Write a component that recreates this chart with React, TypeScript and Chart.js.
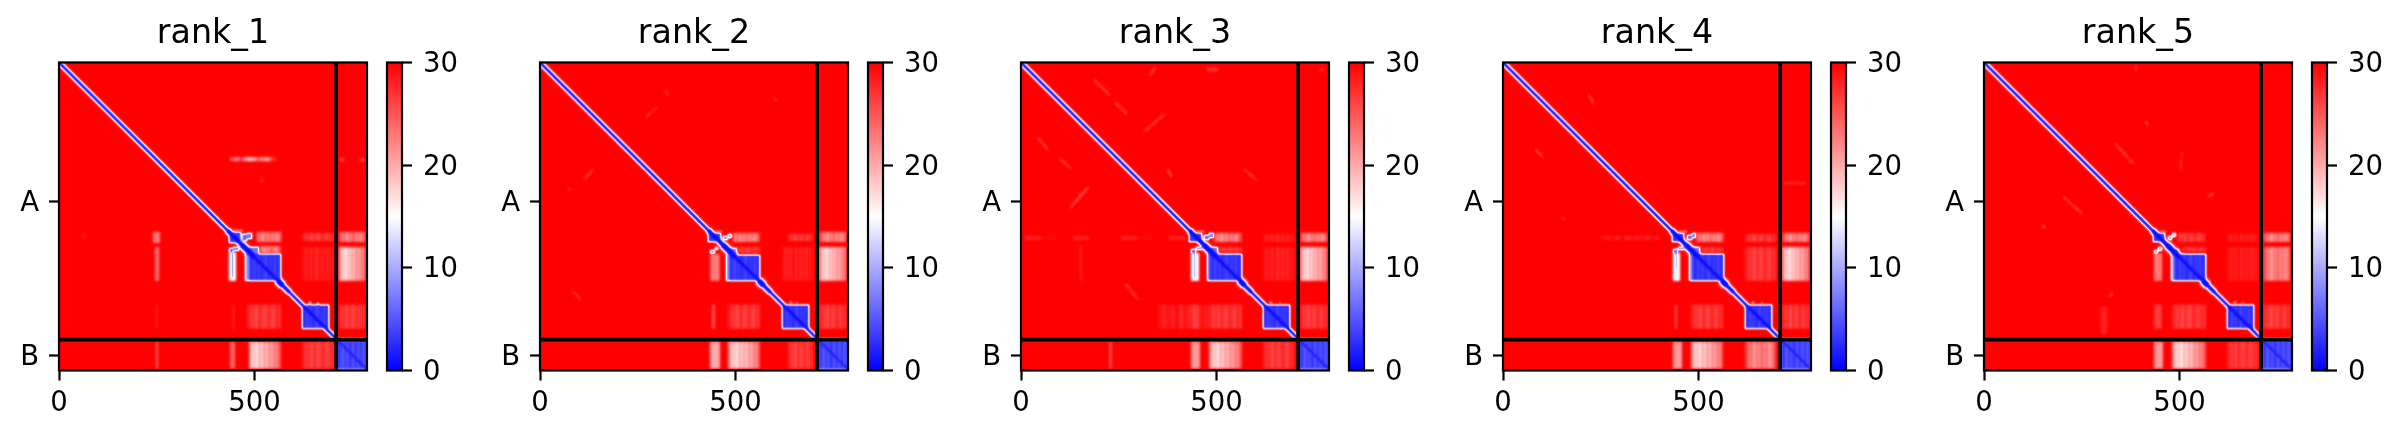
import React, { useEffect, useRef } from "react";
import { Chart, registerables } from "chart.js";

Chart.register(...registerables);

const FONT = "'DejaVu Sans'";
const rankNames = ["rank_1", "rank_2", "rank_3", "rank_4", "rank_5"];
const residueCount = 788;
const chainBoundary = 709;
const xTickValues = [0, 500];
const chainTickValues = [354.5, 748.5];
const chainTickLabels = ["A", "B"];
const colorbarTicks = [0, 10, 20, 30];

// Stripes of predicted aligned error.
const strong = [21, 17.5, 19, 16, 20, 17.5, 21, 18.5, 22, 20, 23, 22, 25];
const pale = [26, 22, 24, 20.5, 24, 22, 25, 22, 24, 21, 23, 26];
const medium = [28, 26.5, 27.5, 25.5, 28, 26.5, 26, 28, 27, 26, 28, 27];
const faint = [29, 28, 29, 28, 29.5, 27.5, 29, 28, 29, 28, 29, 28.5];
const blockMottle = [3.5, 2.5, 4, 2.8, 3.6, 2.4, 3.2, 4.2, 2.6, 3.4, 2.8, 3.8, 2.6, 3.4];
const chainBMottle = [4.5, 3.2, 5, 3.6, 4.4, 3, 5.2, 3.4, 4.6, 3.2, 4.8, 3.6];
const smudge = [25, 22, 26, 22, 18, 20, 24, 22, 19, 25, 28];

// Value by distance from the diagonal, in residues.
const diagonalDistances = [4, 5.5, 6.5, 8, 10, 13];
const diagonalValues = [0.5, 1.5, 8, 18, 25, 29];
// from, to, widening factor
const diagonalSpans = [
  [0, 430, 1],
  [430, 468, 1.5],
  [468, 500, 1.9],
  [500, 560, 1.2],
  [560, 572, 1.9],
  [572, 590, 1.3],
  [590, 704, 1],
];

// x0, x1, y0, y1, value(s) across x
const rank1Regions: any[][] = [
  [434, 466, 436, 462, 3.5],
  [440, 470, 430, 436, 20],
  [468, 480, 441, 458, 6],
  [480, 494, 438, 452, 7],
  [434, 446, 476, 488, 6],
  [446, 460, 472, 484, 7],
  [441, 449, 488, 552, 7],
  [436, 454, 486, 559, 14],
  [485, 567, 490, 559, blockMottle],
  [477, 485, 490, 559, 9],
  [485, 512, 474, 490, 7],
  [512, 567, 470, 490, pale],
  [622, 691, 622, 682, blockMottle],
  [640, 644, 615, 622, 12],
  [660, 664, 617, 622, 12],
  [708, 790, 708, 785, chainBMottle],
  [708, 790, 785, 790, 9],
  [503, 571, 436, 460, pale],
  [622, 703, 438, 458, medium],
  [716, 785, 436, 460, pale],
  [622, 703, 472, 559, faint],
  [716, 785, 472, 559, strong],
  [444, 449, 622, 682, 26],
  [481, 567, 622, 682, medium],
  [716, 785, 622, 682, medium],
  [438, 451, 715, 786, 24],
  [485, 567, 715, 786, strong],
  [622, 703, 715, 786, medium],
  [241, 259, 436, 462, 23],
  [246, 256, 472, 560, 23],
  [247, 252, 622, 682, 27],
  [247, 254, 715, 786, 24],
  [438, 559, 244, 254, smudge],
  [718, 730, 246, 252, 25],
  [770, 782, 246, 252, 25],
  [515, 525, 300, 306, 27],
  [60, 70, 440, 450, 28.5],
];

const rank2Regions: any[][] = [
  [431, 462, 438, 461, 3.5],
  [438, 466, 432, 438, 20],
  [469, 480, 444, 456, 8],
  [480, 490, 440, 450, 9],
  [435, 447, 480, 491, 9],
  [447, 456, 472, 482, 9],
  [435, 460, 492, 560, pale],
  [483, 564, 493, 560, blockMottle],
  [477, 483, 493, 560, 9],
  [483, 503, 476, 493, 8],
  [503, 562, 474, 492, medium],
  [620, 689, 621, 683, blockMottle],
  [640, 644, 615, 621, 14],
  [655, 660, 617, 621, 14],
  [708, 790, 708, 785, chainBMottle],
  [708, 790, 785, 790, 9],
  [490, 563, 438, 461, pale],
  [635, 699, 440, 458, medium],
  [715, 785, 436, 460, pale],
  [618, 699, 472, 560, faint],
  [715, 785, 472, 560, strong],
  [439, 448, 621, 683, 25],
  [482, 563, 621, 683, medium],
  [715, 785, 621, 683, medium],
  [435, 460, 715, 786, 20],
  [482, 563, 715, 786, strong],
  [635, 699, 715, 786, medium],
];

const rank3Regions: any[][] = [
  [431, 463, 438, 461, 3.5],
  [438, 468, 432, 438, 20],
  [469, 482, 442, 456, 6],
  [482, 494, 438, 450, 7],
  [434, 448, 478, 490, 6],
  [448, 462, 472, 482, 7],
  [440, 449, 490, 552, 9],
  [435, 456, 488, 560, 14],
  [482, 565, 490, 560, blockMottle],
  [477, 482, 490, 560, 9],
  [482, 505, 474, 490, 7],
  [505, 565, 472, 488, medium],
  [620, 689, 621, 683, blockMottle],
  [638, 642, 615, 621, 14],
  [660, 664, 617, 621, 14],
  [708, 790, 708, 785, chainBMottle],
  [708, 790, 785, 790, 9],
  [492, 565, 438, 461, pale],
  [620, 699, 440, 460, faint],
  [715, 785, 438, 460, pale],
  [620, 699, 472, 560, faint],
  [715, 785, 472, 560, strong],
  [435, 455, 621, 683, medium],
  [482, 565, 621, 683, medium],
  [715, 785, 621, 683, medium],
  [435, 458, 715, 786, 21],
  [482, 565, 715, 786, strong],
  [620, 699, 715, 786, medium],
  [10, 420, 444, 456, [28, 29.5, 30, 28, 30, 30, 28, 29.5, 30, 28]],
  [150, 156, 470, 560, 28],
  [350, 480, 622, 683, faint],
  [225, 232, 715, 786, 26],
  [475, 505, 12, 24, 27],
  [765, 775, 12, 24, 27],
];

const rank4Regions: any[][] = [
  [432, 464, 438, 461, 3.5],
  [440, 470, 432, 438, 20],
  [470, 484, 442, 456, 6],
  [484, 494, 438, 450, 7],
  [434, 448, 478, 490, 6],
  [448, 464, 472, 482, 7],
  [441, 448, 490, 530, 9],
  [436, 454, 488, 560, 14],
  [484, 566, 490, 560, blockMottle],
  [477, 484, 490, 560, 9],
  [484, 505, 474, 490, 7],
  [505, 564, 472, 488, medium],
  [620, 689, 621, 683, blockMottle],
  [638, 642, 615, 621, 14],
  [660, 664, 617, 621, 14],
  [708, 790, 708, 785, chainBMottle],
  [708, 790, 785, 790, 9],
  [492, 566, 438, 461, pale],
  [620, 699, 440, 460, medium],
  [715, 785, 438, 460, pale],
  [620, 699, 472, 560, medium],
  [715, 785, 472, 560, strong],
  [440, 446, 621, 683, 25],
  [482, 564, 621, 683, medium],
  [715, 785, 621, 683, medium],
  [436, 458, 715, 786, 21],
  [482, 564, 715, 786, strong],
  [620, 699, 715, 786, pale],
  [250, 400, 444, 456, faint],
  [718, 774, 307, 312, 27],
];

const rank5Regions: any[][] = [
  [432, 463, 438, 461, 3.5],
  [440, 466, 432, 438, 20],
  [470, 480, 446, 456, 9],
  [480, 492, 438, 448, 10],
  [436, 446, 482, 490, 9],
  [446, 456, 474, 484, 9],
  [434, 456, 488, 560, pale],
  [486, 568, 490, 560, blockMottle],
  [478, 486, 492, 560, 10],
  [486, 500, 478, 490, 8],
  [505, 568, 472, 486, medium],
  [622, 690, 621, 683, blockMottle],
  [640, 644, 615, 621, 14],
  [660, 664, 617, 621, 14],
  [708, 790, 708, 785, chainBMottle],
  [708, 790, 785, 790, 9],
  [494, 566, 438, 461, medium],
  [622, 700, 440, 460, faint],
  [715, 785, 438, 460, pale],
  [622, 700, 472, 560, faint],
  [715, 785, 472, 560, pale],
  [434, 456, 621, 683, medium],
  [482, 568, 621, 683, medium],
  [715, 785, 621, 683, medium],
  [434, 458, 715, 786, 21],
  [482, 568, 715, 786, strong],
  [622, 700, 715, 786, medium],
  [300, 314, 627, 695, 28],
  [386, 392, 7, 24, 27],
];

// x0, y0, x1, y1, value: faint short streaks in the red field
const rank1Streaks: number[][] = [];
const rank2Streaks = [
  [273, 139, 298, 116, 27],
  [115, 297, 136, 275, 26],
  [320, 71, 328, 79, 27],
  [85, 590, 102, 607, 27],
  [601, 92, 606, 98, 27],
  [74, 325, 78, 329, 27],
];
const rank3Streaks = [
  [188, 45, 226, 83, 26],
  [243, 105, 269, 130, 26],
  [316, 177, 367, 133, 26],
  [43, 194, 69, 224, 26],
  [98, 246, 127, 271, 26],
  [127, 372, 171, 321, 25],
  [269, 570, 299, 608, 26],
  [376, 275, 384, 293, 25],
  [572, 275, 602, 301, 26],
  [329, 32, 343, 15, 26],
];
const rank4Streaks = [
  [219, 83, 232, 105, 26],
  [83, 224, 100, 241, 26],
  [152, 398, 156, 402, 27],
];
const rank5Streaks = [
  [335, 208, 382, 259, 26],
  [203, 344, 250, 387, 26],
  [150, 419, 155, 424, 25],
  [414, 154, 418, 158, 25],
  [587, 336, 574, 344, 25],
  [506, 233, 503, 276, 27],
  [327, 592, 322, 598, 25],
];

const regionsByRank = [rank1Regions, rank2Regions, rank3Regions, rank4Regions, rank5Regions];
const streaksByRank = [rank1Streaks, rank2Streaks, rank3Streaks, rank4Streaks, rank5Streaks];

function bwr(v: number): [number, number, number] {
  const t = Math.max(0, Math.min(30, v)) / 30;
  if (t < 0.5) {
    const c = Math.round(t * 2 * 255);
    return [c, c, 255];
  }
  const c = Math.round((1 - t) * 2 * 255);
  return [255, c, c];
}

function smooth(grid: Float32Array, w: number, h: number, passes: number) {
  const tmp = new Float32Array(grid.length);
  for (let p = 0; p < passes; p++) {
    for (let y = 0; y < h; y++)
      for (let x = 0; x < w; x++) {
        const a = grid[y * w + Math.max(0, x - 1)];
        const b = grid[y * w + x];
        const c = grid[y * w + Math.min(w - 1, x + 1)];
        tmp[y * w + x] = 0.25 * a + 0.5 * b + 0.25 * c;
      }
    for (let y = 0; y < h; y++)
      for (let x = 0; x < w; x++) {
        const a = tmp[Math.max(0, y - 1) * w + x];
        const b = tmp[y * w + x];
        const c = tmp[Math.min(h - 1, y + 1) * w + x];
        grid[y * w + x] = 0.25 * a + 0.5 * b + 0.25 * c;
      }
  }
}

const heatmapPlugin = {
  id: "paeHeatmap",
  beforeDatasetsDraw(chart: any) {
    const { ctx, chartArea: area, scales } = chart;
    const xs = scales.x;
    const ys = scales.y;
    const w = Math.ceil(area.width);
    const h = Math.ceil(area.height);
    const hard = new Float32Array(w * h).fill(30);
    const soft = new Float32Array(w * h).fill(30);
    const paint = (x0: number, x1: number, y0: number, y1: number, v: number) => {
      const target = v < 13 ? hard : soft;
      const a = Math.max(0, Math.round(xs.getPixelForValue(x0) - area.left));
      const b = Math.min(w, Math.round(xs.getPixelForValue(x1) - area.left));
      const c = Math.max(0, Math.round(ys.getPixelForValue(y0) - area.top));
      const d = Math.min(h, Math.round(ys.getPixelForValue(y1) - area.top));
      for (let j = c; j < d; j++)
        for (let i = a; i < b; i++) if (v < target[j * w + i]) target[j * w + i] = v;
    };
    for (const r of chart.data.datasets[0].data) {
      const vals = Array.isArray(r.v) ? r.v : [r.v];
      const n = vals.length;
      vals.forEach((v: number, i: number) =>
        paint(r.x0 + ((r.x1 - r.x0) * i) / n, r.x0 + ((r.x1 - r.x0) * (i + 1)) / n, r.y0, r.y1, v),
      );
    }
    for (const s of chart.data.datasets[1].data) {
      const steps = Math.ceil(Math.hypot(s.x1 - s.x0, s.y1 - s.y0) / 2);
      for (let i = 0; i <= steps; i++) {
        const px = s.x0 + ((s.x1 - s.x0) * i) / steps;
        const py = s.y0 + ((s.y1 - s.y0) * i) / steps;
        paint(px - 2, px + 2, py - 2, py + 2, s.v);
      }
    }
    for (let j = 0; j < h; j++) {
      const ry = ys.getValueForPixel(area.top + j + 0.5);
      for (let i = 0; i < w; i++) {
        const rx = xs.getValueForPixel(area.left + i + 0.5);
        const inA = rx < chainBoundary && ry < chainBoundary;
        const inB = rx > chainBoundary && ry > chainBoundary;
        if (!inA && !inB) continue;
        const mid = (rx + ry) / 2;
        const d = Math.abs(rx - ry);
        let widen = 1;
        for (const sp of diagonalSpans) if (mid >= sp[0] && mid < sp[1]) widen = sp[2];
        if (inB) {
          if (d < 3 && hard[j * w + i] > 1.5) hard[j * w + i] = 1.5;
          continue;
        }
        for (let k = 0; k < diagonalDistances.length; k++) {
          if (d < diagonalDistances[k] * widen) {
            if (diagonalValues[k] < hard[j * w + i]) hard[j * w + i] = diagonalValues[k];
            break;
          }
        }
      }
    }
    smooth(hard, w, h, 2);
    smooth(soft, w, h, 3);
    const off = document.createElement("canvas");
    off.width = w;
    off.height = h;
    const octx = off.getContext("2d")!;
    const img = octx.createImageData(w, h);
    for (let k = 0; k < w * h; k++) {
      const [r, g, b] = bwr(Math.min(hard[k], soft[k]));
      img.data[k * 4] = r;
      img.data[k * 4 + 1] = g;
      img.data[k * 4 + 2] = b;
      img.data[k * 4 + 3] = 255;
    }
    octx.putImageData(img, 0, 0);
    ctx.drawImage(off, area.left, area.top, area.width, area.height);
  },
};

const framePlugin = {
  id: "frame",
  afterDraw(chart: any) {
    const { ctx, chartArea: a } = chart;
    ctx.save();
    ctx.strokeStyle = "#000";
    ctx.lineWidth = 2.2;
    ctx.strokeRect(a.left, a.top, a.width, a.height);
    ctx.restore();
  },
};

// Canvas "middle" sits above the visual centre of the digits and capitals.
function nudgeLabels(s: any, dy: number) {
  if (s.__nudged) return;
  s.__nudged = true;
  const original = s._computeLabelItems;
  s._computeLabelItems = function (area: any) {
    const items = original.call(s, area);
    items.forEach((item: any) => {
      item.textOffset += dy;
    });
    return items;
  };
}

function makeHeatmap(canvas: HTMLCanvasElement, k: number) {
  const regions = regionsByRank[k].map(([x0, x1, y0, y1, v]) => ({
    x: (x0 + x1) / 2,
    y: (y0 + y1) / 2,
    x0,
    x1,
    y0,
    y1,
    v,
  }));
  const streaks = streaksByRank[k].map(([x0, y0, x1, y1, v]) => ({
    x: x0,
    y: y0,
    x0,
    y0,
    x1,
    y1,
    v,
  }));
  return new Chart(canvas, {
    type: "scatter",
    data: {
      datasets: [
        { label: "regions", data: regions, pointRadius: 0, showLine: false },
        { label: "streaks", data: streaks, pointRadius: 0, showLine: false },
        {
          label: "chain boundary x",
          data: [
            { x: chainBoundary, y: 0 },
            { x: chainBoundary, y: residueCount },
          ],
          showLine: true,
          pointRadius: 0,
          borderColor: "#000",
          borderWidth: 3.7,
        },
        {
          label: "chain boundary y",
          data: [
            { x: 0, y: chainBoundary },
            { x: residueCount, y: chainBoundary },
          ],
          showLine: true,
          pointRadius: 0,
          borderColor: "#000",
          borderWidth: 3.7,
        },
      ],
    } as any,
    plugins: [heatmapPlugin, framePlugin],
    options: {
      animation: false,
      responsive: false,
      events: [],
      layout: { padding: { left: 0, right: 10, top: 0, bottom: 0 } },
      plugins: {
        legend: { display: false },
        tooltip: { enabled: false },
        title: {
          display: true,
          fullSize: false,
          text: rankNames[k],
          color: "#000",
          font: { family: FONT, size: 33.3, weight: "normal", lineHeight: 1.2 },
          padding: { top: 14, bottom: 8.5 },
        },
      },
      scales: {
        x: {
          type: "linear",
          min: 0,
          max: residueCount,
          afterBuildTicks: (s: any) => {
            s.ticks = xTickValues.map((value) => ({ value }));
          },
          afterFit: (s: any) => {
            s.height = 67.5;
          },
          ticks: {
            autoSkip: false,
            maxRotation: 0,
            color: "#000",
            padding: 7,
            font: { family: FONT, size: 27.5 },
            callback: (v: any) => String(v),
          },
          border: { display: false },
          grid: { drawOnChartArea: false, tickLength: 10, tickWidth: 2.2, tickColor: "#000" },
        },
        y: {
          type: "linear",
          reverse: true,
          min: 0,
          max: residueCount,
          afterBuildTicks: (s: any) => {
            s.ticks = chainTickValues.map((value) => ({ value }));
            nudgeLabels(s, 2.5);
          },
          afterFit: (s: any) => {
            s.width = 59;
          },
          ticks: {
            autoSkip: false,
            color: "#000",
            padding: 10,
            font: { family: FONT, size: 27.5 },
            callback: (v: any) => chainTickLabels[chainTickValues.indexOf(v)],
          },
          border: { display: false },
          grid: { drawOnChartArea: false, tickLength: 10, tickWidth: 2.2, tickColor: "#000" },
        },
      },
    } as any,
  });
}

function makeColorbar(canvas: HTMLCanvasElement) {
  return new Chart(canvas, {
    type: "bar",
    data: {
      labels: [""],
      datasets: [
        {
          data: [[colorbarTicks[0], colorbarTicks[colorbarTicks.length - 1]]],
          barPercentage: 1,
          categoryPercentage: 1,
          backgroundColor: (c: any) => {
            const a = c.chart.chartArea;
            if (!a) return "#fff";
            const g = c.chart.ctx.createLinearGradient(0, a.bottom, 0, a.top);
            g.addColorStop(0, "#0000ff");
            g.addColorStop(0.5, "#ffffff");
            g.addColorStop(1, "#ff0000");
            return g;
          },
        },
      ],
    } as any,
    plugins: [framePlugin],
    options: {
      animation: false,
      responsive: false,
      events: [],
      layout: { padding: { left: 3, right: 0, top: 62.5, bottom: 67.5 } },
      plugins: { legend: { display: false }, tooltip: { enabled: false } },
      scales: {
        x: { display: false },
        y: {
          position: "right",
          min: 0,
          max: 30,
          afterBuildTicks: (s: any) => {
            s.ticks = colorbarTicks.map((value) => ({ value }));
            nudgeLabels(s, 2.5);
          },
          afterFit: (s: any) => {
            s.width = 82;
          },
          ticks: {
            autoSkip: false,
            color: "#000",
            padding: 11,
            font: { family: FONT, size: 27.5 },
          },
          border: { display: false },
          grid: { drawOnChartArea: false, tickLength: 10, tickWidth: 2.2, tickColor: "#000" },
        },
      },
    } as any,
  });
}

const panelLefts = [0, 481, 962, 1444, 1925];

export default function App() {
  const heatRefs = useRef<(HTMLCanvasElement | null)[]>([]);
  const barRefs = useRef<(HTMLCanvasElement | null)[]>([]);
  useEffect(() => {
    const charts: Chart[] = [];
    rankNames.forEach((_, k) => {
      charts.push(makeHeatmap(heatRefs.current[k]!, k));
      charts.push(makeColorbar(barRefs.current[k]!));
    });
    return () => charts.forEach((c) => c.destroy());
  }, []);
  return (
    <div style={{ position: "absolute", left: 0, top: 0, width: 2401, height: 438, background: "#fff", overflow: "hidden" }}>
      {rankNames.map((name, k) => (
        <React.Fragment key={name}>
          <canvas
            ref={(el) => {
              heatRefs.current[k] = el;
            }}
            width={377}
            height={438}
            style={{ position: "absolute", left: panelLefts[k], top: 0 }}
          />
          <canvas
            ref={(el) => {
              barRefs.current[k] = el;
            }}
            width={100}
            height={438}
            style={{ position: "absolute", left: panelLefts[k] + 384, top: 0 }}
          />
        </React.Fragment>
      ))}
    </div>
  );
}
